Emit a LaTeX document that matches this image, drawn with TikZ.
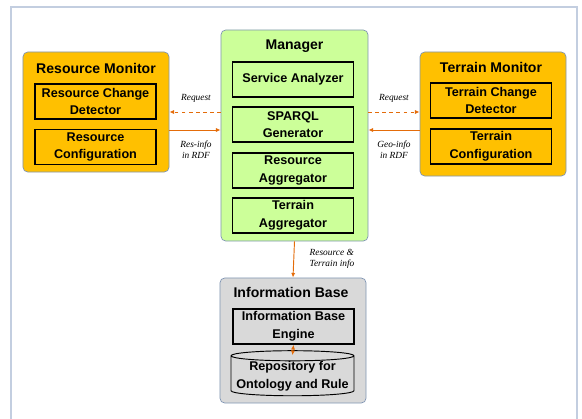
\documentclass[tikz,border=0pt]{standalone}
\usepackage{fontspec}
\setmainfont{Liberation Sans}
\newfontfamily\lblfont{Liberation Serif}
\usetikzlibrary{shapes.geometric, arrows.meta}
\definecolor{monorange}{HTML}{FFC000}
\definecolor{mgrgreen}{HTML}{CCFF99}
\definecolor{basegray}{HTML}{D9D9D9}
\definecolor{edgeblue}{HTML}{8096B4}
\definecolor{framegray}{HTML}{C3CEE0}
\definecolor{arrorange}{HTML}{E46C0A}

\begin{document}
\begin{tikzpicture}[x=0.03cm, y=-0.03cm,
    outer/.style={draw=edgeblue, rounded corners=4pt, line width=0.6pt},
    title/.style={font=\fontsize{12}{14}\selectfont\bfseries},
    part/.style={draw=black, line width=1.3pt, minimum width=3.63cm, minimum height=1.05cm,
        align=center, inner sep=1pt, font=\fontsize{10.8}{15}\selectfont\bfseries},
    flow/.style={draw=arrorange, line width=0.8pt, -{Latex[length=4pt, width=3.5pt]}},
    lbl/.style={font=\lblfont\itshape\fontsize{8}{9.5}\selectfont, align=center}]
    \useasboundingbox (0,0) rectangle (582,419);
    \draw[framegray, line width=1.5pt] (11,7) rectangle (577,440);

    \node[outer, fill=monorange, minimum width=4.38cm, minimum height=3.6cm] (rm) at (96,112) {};
    \node[title] (rmtitle) at (96,68) {Resource Monitor};
    \node[part] (rcd) at (95.5,101.5) {Resource Change\\Detector};
    \node[part] (rconf) at (95.5,147) {Resource\\Configuration};

    \node[outer, fill=mgrgreen, minimum width=4.41cm, minimum height=6.33cm] (mgr) at (294.5,135.5) {};
    \node[title] (mgrtitle) at (294.5,46) {Manager};
    \node[part] (sa) at (293,79.5) {Service Analyzer};
    \node[part] (sg) at (293,124.5) {SPARQL\\Generator};
    \node[part] (ra) at (293,170.5) {Resource\\Aggregator};
    \node[part] (ta) at (293,215.5) {Terrain\\Aggregator};

    \node[outer, fill=monorange, minimum width=4.38cm, minimum height=3.72cm] (tm) at (493,114) {};
    \node[title] (tmtitle) at (491,67) {Terrain Monitor};
    \node[part] (tcd) at (491,100.5) {Terrain Change\\Detector};
    \node[part] (tconf) at (491,146.5) {Terrain\\Configuration};

    \node[outer, fill=basegray, minimum width=4.38cm, minimum height=3.75cm] (ib) at (293,340.5) {};
    \node[title] (ibtitle) at (291,292) {Information Base};
    \node[part] (ibe) at (293.5,326.5) {Information Base\\Engine};
    \node[cylinder, shape border rotate=90, draw=black, line width=0.8pt, aspect=0.09,
        minimum width=3.69cm, minimum height=1.14cm, align=center, inner sep=0pt,
        font=\fontsize{10.8}{15}\selectfont\bfseries] (repo) at (292.5,376) {Repository for\\Ontology and Rule};

    \draw[flow, dashed] (rm.east -| mgr.west) -- (rm.east);
    \draw[flow] ([yshift=-0.54cm]rm.east) -- ([yshift=-0.54cm]rm.east -| mgr.west);
    \draw[flow, dashed] (rm.east -| mgr.east) -- (rm.east -| tm.west);
    \draw[flow] ([yshift=-0.54cm]rm.east -| tm.west) -- ([yshift=-0.54cm]rm.east -| mgr.east);
    \draw[flow] (mgr.south) -- (ib.north);
    \draw[flow, {Latex[length=4pt, width=3.5pt]}-{Latex[length=4pt, width=3.5pt]}] (ibe.south) -- ([yshift=-0.15cm]repo.north);

    \node[lbl] (req1) at (196,98) {Request};
    \node[lbl] (res) at (196,150) {Res-info\\in RDF};
    \node[lbl] (req2) at (394,98) {Request};
    \node[lbl] (geo) at (394,150) {Geo-info\\in RDF};
    \node[lbl, align=left] (rti) at (332,259) {Resource \&\\Terrain info};
\end{tikzpicture}
\end{document}
